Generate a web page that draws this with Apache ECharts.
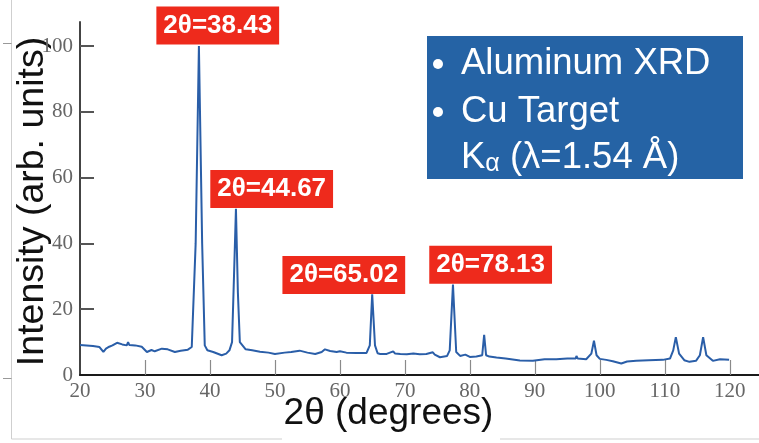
<!DOCTYPE html>
<html>
<head>
<meta charset="utf-8">
<script src="https://cdn.jsdelivr.net/npm/echarts@6/dist/echarts.min.js"></script>
<style>html,body{margin:0;padding:0;background:#fff}#c{width:759px;height:443px}</style>
</head>
<body>
<div id="c"></div>
<script>
// 2θ positions (degrees)
const twoTheta = [20, 21, 22, 23, 23.6, 24, 24.5, 25, 25.7, 26.5, 27.2, 27.4, 27.6, 28.5, 29.5, 30.3, 31, 31.5, 32.6, 33.5, 34.6, 35.5, 36.6,
  37.2, 37.8, 38.3, 38.8, 39.2, 39.6, 40.5, 41.8, 42.5, 43.0, 43.4, 43.7, 44.0, 44.3, 44.6, 45.5, 46.5, 47.7, 49, 50, 51.5, 52.5, 53.8, 55,
  56.2, 57.2, 57.7, 58.5, 59.5, 60, 61, 62.5, 64.1, 64.6, 64.97, 65.4, 65.8, 66.2, 67.2, 68.2, 68.5, 69.3, 70.3, 71.3, 72.3, 73.3, 74.3,
  74.6, 75.4, 76.5, 76.9, 77.4, 77.9, 78.5, 79.3, 80, 81, 81.9, 82.2, 82.5, 83, 84.1, 85.5, 87.7, 89.7, 91.5, 93.3, 95, 96.3, 96.4, 96.6,
  97.9, 98.7, 99.1, 99.5, 100, 101, 102, 103.3, 104.2, 105.6, 107.5, 109.7, 110.8, 111.3, 111.7, 112.2, 113, 113.8, 114.8, 115.4, 115.9,
  116.4, 117.4, 118.5, 119.9];
// Intensity (arb. units)
const intensity = [9.1, 9.0, 8.8, 8.5, 7.0, 8.0, 8.6, 9.0, 9.8, 9.3, 9.0, 10.0, 9.1, 9.0, 8.6, 7.0, 7.6, 7.2, 8.0, 7.8, 7.0, 7.4, 7.7,
  8.5, 40, 100, 40, 9, 7.5, 7.0, 6.0, 6.5, 7.5, 10, 30, 50.5, 25, 10, 7.8, 7.5, 7.1, 6.8, 6.4, 6.8, 7.0, 7.4, 6.8,
  6.4, 7.0, 7.8, 7.3, 7.0, 7.2, 6.8, 6.7, 6.7, 9, 24.5, 9, 6.6, 6.4, 6.4, 7.2, 6.5, 6.4, 6.3, 6.5, 6.3, 6.4, 6.9,
  6.2, 5.4, 5.8, 7.5, 27.5, 7, 5.8, 6.2, 5.5, 5.6, 6.0, 12.2, 6.0, 5.6, 5.3, 5.0, 4.4, 4.3, 4.8, 4.8, 5.0, 5.0, 5.8, 5.0,
  4.8, 6.5, 10.4, 6.0, 4.9, 4.6, 4.2, 3.5, 4.1, 4.3, 4.5, 4.6, 5.0, 7.5, 11.5, 6.5, 4.5, 4.0, 4.3, 6.0, 11.5,
  6.0, 4.3, 4.8, 4.6];
// Peak annotation boxes (placed in data coordinates)
const peakLabelText = ['2θ=38.43', '2θ=44.67', '2θ=65.02', '2θ=78.13'];
const peakLabelX = [41.2, 49.5, 60.6, 83.2];
const peakLabelY = [106.2, 56.5, 30.4, 33.5];
// Axis ticks
const xLabelValues = [20, 30, 40, 50, 60, 70, 80, 90, 100, 110, 120];
const xTickValues = [30, 40, 50, 60, 70, 80, 90, 100, 110, 120];
const yLabelValues = [0, 20, 40, 60, 80, 100];
const yTickValues = [20, 40, 60, 80, 100];
const legendLines = ['Aluminum XRD', 'Cu Target', '{k|K}{s|α} (λ=1.54 Å)'];

const chart = echarts.init(document.getElementById('c'), null, {renderer: 'canvas'});
const lineData = twoTheta.map((t, i) => [t, intensity[i]]);
const labelData = peakLabelX.map((x, i) => ({value: [x, peakLabelY[i]], name: peakLabelText[i]}));

const serif = '"Liberation Serif", "DejaVu Serif", serif';
const sans = '"Liberation Sans", Arial, sans-serif';

chart.setOption({
  backgroundColor: '#ffffff',
  animation: false,
  grid: {left: 80, right: 0, top: 22, bottom: 68, containLabel: false, outerBoundsMode: 'none'},
  xAxis: {
    type: 'value', min: 20, max: 124.5,
    name: '2θ (degrees)', nameLocation: 'middle', nameGap: 20, nameMoveOverlap: false,
    nameTextStyle: {fontFamily: sans, fontSize: 37, color: '#111', padding: [0, 62, 0, 0]},
    axisLine: {show: true, lineStyle: {color: '#1a1a1a', width: 2}},
    axisTick: {show: true, inside: true, length: 15, customValues: xTickValues, lineStyle: {color: '#8a8a8a', width: 1.2}},
    axisLabel: {customValues: xLabelValues, fontFamily: serif, fontSize: 21, color: '#666', margin: 6},
    splitLine: {show: false}
  },
  yAxis: {
    type: 'value', min: 0, max: 107.3,
    name: 'Intensity (arb. units)', nameLocation: 'middle', nameGap: 28, nameRotate: 90, nameMoveOverlap: false,
    nameTextStyle: {fontFamily: sans, fontSize: 37.5, color: '#111', padding: [0, 6, 0, 0]},
    axisLine: {show: true, lineStyle: {color: '#444', width: 2}},
    axisTick: {show: true, inside: true, length: 14, customValues: yTickValues, lineStyle: {color: '#555', width: 2}},
    axisLabel: {customValues: yLabelValues, fontFamily: serif, fontSize: 21, color: '#666', margin: 7},
    splitLine: {show: false}
  },
  series: [
    {
      type: 'line', data: lineData, showSymbol: false, smooth: false,
      lineStyle: {color: '#2a5ea8', width: 2}, z: 2
    },
    {
      type: 'scatter', data: labelData, symbolSize: 0, clip: false, z: 5,
      itemStyle: {opacity: 1},
      label: {
        show: true, position: 'inside', formatter: p => p.name, opacity: 1,
        fontFamily: sans, fontWeight: 'bold', fontSize: 26, color: '#fff',
        backgroundColor: '#ee2a1c', padding: [6, 7], lineHeight: 26
      }
    }
  ],
  graphic: [
    {type: 'line', shape: {x1: 11.5, y1: 0, x2: 11.5, y2: 439}, style: {stroke: '#cfcfcf', lineWidth: 1}, silent: true},
    {type: 'line', shape: {x1: 11.5, y1: 439, x2: 282, y2: 439}, style: {stroke: '#cfcfcf', lineWidth: 1}, silent: true},
    {type: 'line', shape: {x1: 500, y1: 439, x2: 759, y2: 439}, style: {stroke: '#cfcfcf', lineWidth: 1}, silent: true},
    {type: 'line', shape: {x1: 3, y1: 43.5, x2: 11.5, y2: 43.5}, style: {stroke: '#999', lineWidth: 1}, silent: true},
    {type: 'line', shape: {x1: 3, y1: 378.5, x2: 11.5, y2: 378.5}, style: {stroke: '#999', lineWidth: 1}, silent: true},
    {type: 'rect', shape: {x: 427, y: 36, width: 316, height: 143}, style: {fill: '#2563a5'}, z: 10},
    {type: 'circle', shape: {cx: 438, cy: 64, r: 5}, style: {fill: '#fff'}, z: 11},
    {type: 'circle', shape: {cx: 438, cy: 112, r: 5}, style: {fill: '#fff'}, z: 11},
    {type: 'text', x: 461, y: 64, z: 11, style: {text: legendLines[0], fill: '#fff', font: '36.5px ' + sans, verticalAlign: 'middle', align: 'left'}},
    {type: 'text', x: 461, y: 112, z: 11, style: {text: legendLines[1], fill: '#fff', font: '36.5px ' + sans, verticalAlign: 'middle', align: 'left'}},
    {type: 'text', x: 461, y: 158, z: 11, style: {
      text: legendLines[2], fill: '#fff', font: '36.5px ' + sans, verticalAlign: 'middle', align: 'left',
      rich: {k: {fontSize: 36.5, fontFamily: sans, fill: '#fff'}, s: {fontSize: 25, fontFamily: sans, fill: '#fff', verticalAlign: 'bottom'}}
    }}
  ]
});
</script>
</body>
</html>
